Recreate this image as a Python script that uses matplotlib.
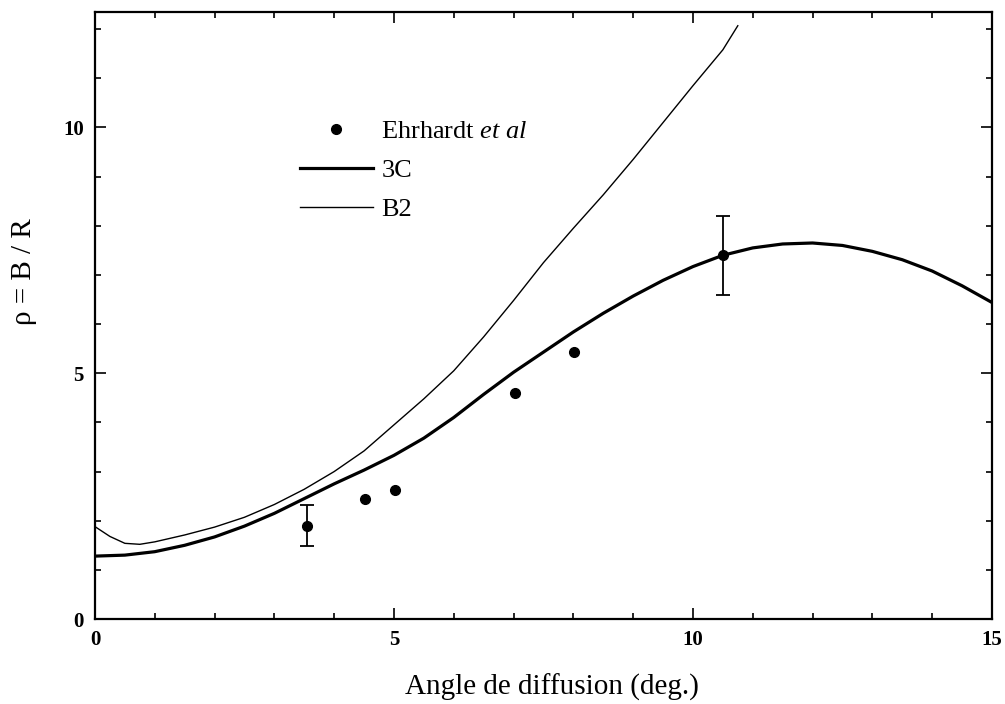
import matplotlib
matplotlib.use("Agg")
import matplotlib.pyplot as plt
import numpy as np
from matplotlib.lines import Line2D
from matplotlib.ticker import MultipleLocator

plt.rcParams['font.family'] = ['Liberation Serif', 'DejaVu Serif']
plt.rcParams['mathtext.fontset'] = 'custom'
plt.rcParams['mathtext.rm'] = 'Liberation Serif'
plt.rcParams['mathtext.it'] = 'Liberation Serif:italic'

# courbe 3C (trait epais)
x_3c = [0, 0.5, 1.0, 1.5, 2.0, 2.5, 3.0, 3.5, 4.0, 4.5, 5.0, 5.5, 6.0, 6.5, 7.0, 7.5,
        8.0, 8.5, 9.0, 9.5, 10.0, 10.5, 11.0, 11.5, 12.0, 12.5, 13.0, 13.5, 14.0, 14.5, 15.0]
y_3c = [1.28, 1.30, 1.37, 1.50, 1.67, 1.89, 2.15, 2.45, 2.75, 3.03, 3.33, 3.68, 4.10, 4.57,
        5.02, 5.43, 5.84, 6.22, 6.57, 6.89, 7.17, 7.40, 7.55, 7.63, 7.65, 7.60, 7.48, 7.31,
        7.08, 6.78, 6.44]

# courbe B2 (trait fin)
x_b2 = [0, 0.25, 0.5, 0.75, 1.0, 1.5, 2.0, 2.5, 3.0, 3.5, 4.0, 4.5, 5.0, 5.5, 6.0, 6.5,
        7.0, 7.5, 8.0, 8.5, 9.0, 9.5, 10.0, 10.5, 10.75]
y_b2 = [1.88, 1.68, 1.54, 1.52, 1.57, 1.71, 1.87, 2.07, 2.33, 2.64, 3.00, 3.42, 3.95,
        4.48, 5.05, 5.74, 6.48, 7.25, 7.95, 8.63, 9.35, 10.10, 10.85, 11.58, 12.07]

# points experimentaux (Ehrhardt et al)
x_exp = np.array([3.55, 4.52, 5.01, 7.02, 8.01, 10.51])
y_exp = np.array([1.90, 2.44, 2.63, 4.60, 5.44, 7.40])
err_exp = np.array([0.41, 0, 0, 0, 0, 0.80])

fig = plt.figure(figsize=(10.05, 7.04), dpi=100)
ax = fig.add_axes([0.0945, 0.1207, 0.8925, 0.8623])

ax.plot(x_3c, y_3c, color='black', linewidth=2.3)
ax.plot(x_b2, y_b2, color='black', linewidth=1.0)
ax.plot(x_exp, y_exp, 'o', color='black', markersize=7)
m = err_exp > 0
ax.errorbar(x_exp[m], y_exp[m], yerr=err_exp[m], fmt='none', ecolor='black',
            elinewidth=1.3, capsize=5, capthick=1.3)

ax.set_xlim(0, 15)
ax.set_ylim(0, 12.35)
ax.xaxis.set_major_locator(MultipleLocator(5))
ax.xaxis.set_minor_locator(MultipleLocator(1))
ax.yaxis.set_major_locator(MultipleLocator(5))
ax.yaxis.set_minor_locator(MultipleLocator(1))
ax.tick_params(which='both', direction='in', top=True, right=True, width=1.2)
ax.tick_params(which='major', length=8, labelsize=15, pad=8)
ax.tick_params(which='minor', length=4)
for lab in ax.get_xticklabels() + ax.get_yticklabels():
    lab.set_fontweight('bold')
for s in ax.spines.values():
    s.set_linewidth(1.6)

ax.set_xlabel("Angle de diffusion (deg.)", fontsize=21)
ax.set_ylabel("ρ = B / R", fontsize=21)
ax.xaxis.set_label_coords(0.51, -0.09)
ax.yaxis.set_label_coords(-0.065, 0.572)

handles = [Line2D([], [], marker='o', linestyle='none', color='black', markersize=7),
           Line2D([], [], color='black', linewidth=2.3),
           Line2D([], [], color='black', linewidth=1.0)]
labels = ["Ehrhardt $\\mathit{et\\ al}$", "3C", "B2"]
ax.legend(handles, labels, loc='upper left', bbox_to_anchor=(0.2016, 0.862), frameon=False,
          fontsize=19, handlelength=2.8, handletextpad=0.3, labelspacing=0.59,
          numpoints=1)

fig.savefig("out.png", dpi=100)
